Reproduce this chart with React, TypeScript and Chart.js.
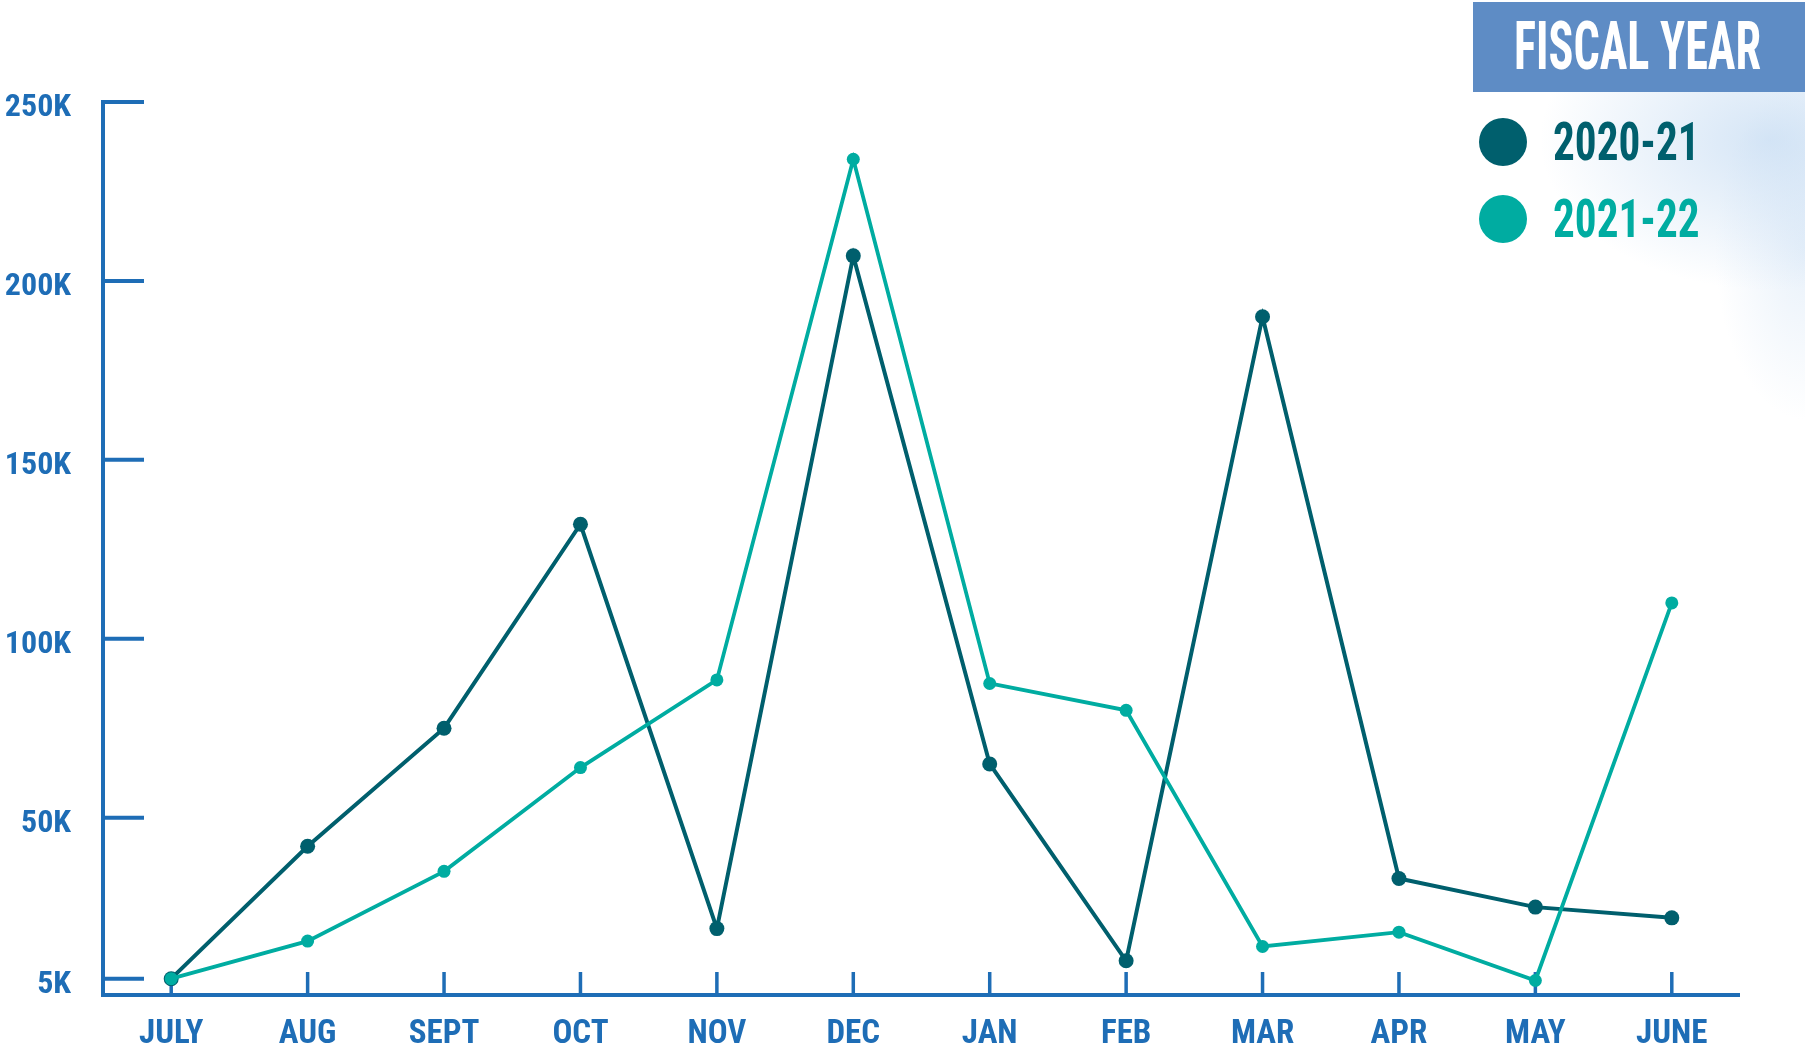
import React, { useEffect, useRef } from "react";
import { Chart, registerables } from "chart.js";

Chart.register(...registerables);

const months = ["JULY", "AUG", "SEPT", "OCT", "NOV", "DEC", "JAN", "FEB", "MAR", "APR", "MAY", "JUNE"];
const fy2021 = [5000, 42000, 75000, 132000, 19000, 207000, 65000, 10000, 190000, 33000, 25000, 22000];
const fy2122 = [5000, 15500, 35000, 64000, 88500, 234000, 87500, 80000, 14000, 18000, 4500, 110000];
const yTickValues = [5000, 50000, 100000, 150000, 200000, 250000];
const seriesNames = ["2020-21", "2021-22"];

const DARK = "#005f6d";
const TEAL = "#00aca1";
const AXIS = "#1e6db6";
const FONT = "'Roboto Condensed','Liberation Sans Narrow','DejaVu Sans Condensed',sans-serif";

const axesPlugin = {
  id: "customAxes",
  beforeDatasetsDraw(chart: any) {
    const { ctx, chartArea, scales } = chart;
    const x = scales.x;
    const y = scales.y;
    ctx.save();
    ctx.strokeStyle = AXIS;
    ctx.lineWidth = 4;
    ctx.lineCap = "butt";
    const topY = y.getPixelForValue(250000);
    ctx.beginPath();
    ctx.moveTo(chartArea.left, topY - 2);
    ctx.lineTo(chartArea.left, chartArea.bottom + 2);
    ctx.lineTo(chartArea.right, chartArea.bottom + 2);
    ctx.stroke();
    yTickValues.forEach((v) => {
      const py = y.getPixelForValue(v);
      ctx.beginPath();
      ctx.moveTo(chartArea.left, py);
      ctx.lineTo(chartArea.left + 41, py);
      ctx.stroke();
    });
    ctx.lineWidth = 3.5;
    months.forEach((_, i) => {
      const px = x.getPixelForValue(i);
      ctx.beginPath();
      ctx.moveTo(px, chartArea.bottom);
      ctx.lineTo(px, chartArea.bottom - 21);
      ctx.stroke();
    });
    ctx.restore();
  },
};

export default function App() {
  const ref = useRef<HTMLCanvasElement | null>(null);

  useEffect(() => {
    document.body.style.margin = "0";
    if (!ref.current) return;
    const chart = new Chart(ref.current, {
      type: "line",
      data: {
        labels: months,
        datasets: [
          {
            label: seriesNames[0],
            data: fy2021,
            borderColor: DARK,
            backgroundColor: DARK,
            borderWidth: 4,
            pointRadius: 7.5,
            pointBorderWidth: 0,
            tension: 0,
            order: 1,
          },
          {
            label: seriesNames[1],
            data: fy2122,
            borderColor: TEAL,
            backgroundColor: TEAL,
            borderWidth: 3.8,
            pointRadius: 6.5,
            pointBorderWidth: 0,
            tension: 0,
            order: 0,
          },
        ],
      },
      options: {
        animation: false,
        responsive: false,
        maintainAspectRatio: false,
        layout: { padding: { top: 102, right: 65, left: 0, bottom: 0 } },
        plugins: { legend: { display: false }, tooltip: { enabled: false } },
        scales: {
          x: {
            type: "category",
            offset: true,
            grid: { display: false, drawTicks: false },
            border: { display: false },
            ticks: {
              color: AXIS,
              padding: 22,
              maxRotation: 0,
              font: { family: FONT, size: 33, weight: "bold" },
            },
            afterFit: (s: any) => {
              s.height = 64;
            },
          },
          y: {
            type: "linear",
            min: 1000,
            max: 250000,
            grid: { display: false, drawTicks: false },
            border: { display: false },
            afterBuildTicks: (s: any) => {
              s.ticks = yTickValues.map((v) => ({ value: v }));
            },
            ticks: {
              color: AXIS,
              padding: 32,
              labelOffset: 6,
              font: { family: FONT, size: 32, weight: "bold" },
              callback: (v: any) => `${Number(v) / 1000}K`,
            },
            afterFit: (s: any) => {
              s.width = 103;
            },
          },
        },
      },
      plugins: [axesPlugin],
    });
    return () => chart.destroy();
  }, []);

  const legendText: React.CSSProperties = {
    position: "absolute",
    left: 1553,
    fontFamily: FONT,
    fontWeight: 700,
    fontSize: 54,
    lineHeight: "54px",
    transform: "scaleX(0.8)",
    transformOrigin: "left center",
    whiteSpace: "nowrap",
  };

  return (
    <div
      style={{
        position: "relative",
        width: 1805,
        height: 1057,
        overflow: "hidden",
        background:
          "radial-gradient(ellipse 230px 150px at 1770px 140px, rgba(185,212,240,0.6), rgba(255,255,255,0) 100%), radial-gradient(ellipse 90px 170px at 1805px 250px, rgba(205,224,244,0.45), rgba(255,255,255,0) 100%), #ffffff",
      }}
    >
      <canvas ref={ref} width={1805} height={1057} style={{ position: "absolute", left: 0, top: 0 }} />
      <div
        style={{
          position: "absolute",
          left: 1473,
          top: 2,
          width: 332,
          height: 90,
          background: "#5e8cc5",
        }}
      />
      <div
        style={{
          position: "absolute",
          left: 1514,
          top: 17,
          color: "#ffffff",
          fontFamily: FONT,
          fontWeight: 700,
          fontSize: 66,
          lineHeight: "60px",
          transform: "scaleX(0.7)",
          transformOrigin: "left center",
          whiteSpace: "nowrap",
        }}
      >
        FISCAL YEAR
      </div>
      <div style={{ position: "absolute", left: 1479, top: 118, width: 48, height: 48, borderRadius: "50%", background: DARK }} />
      <div style={{ position: "absolute", left: 1479, top: 195, width: 48, height: 48, borderRadius: "50%", background: TEAL }} />
      <div style={{ ...legendText, top: 115, color: DARK }}>{seriesNames[0]}</div>
      <div style={{ ...legendText, top: 192, color: TEAL }}>{seriesNames[1]}</div>
    </div>
  );
}
